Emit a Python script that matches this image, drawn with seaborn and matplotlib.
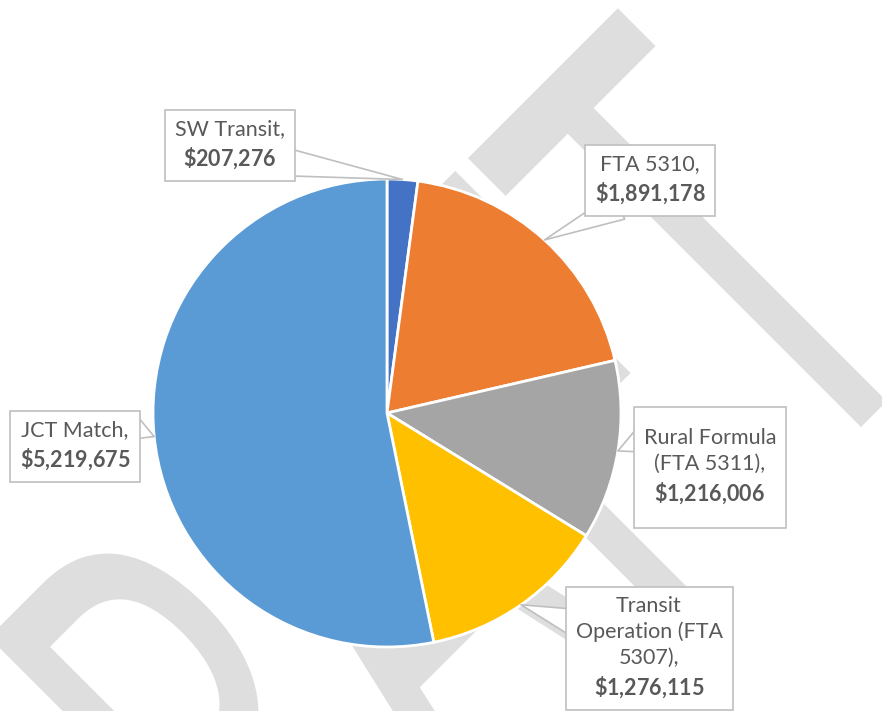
import numpy as np
import matplotlib
matplotlib.use("Agg")
import matplotlib.pyplot as plt
import seaborn as sns
from matplotlib.textpath import TextPath
from matplotlib.patches import PathPatch
from matplotlib.path import Path
from matplotlib.font_manager import FontProperties
from matplotlib.transforms import Affine2D

# Data
categories = ["SW Transit", "FTA 5310", "Rural Formula (FTA 5311)",
              "Transit Operation (FTA 5307)", "JCT Match"]
values = [207276, 1891178, 1216006, 1276115, 5219675]
label_names = ["SW Transit,", "FTA 5310,", "Rural Formula\n(FTA 5311),",
               "Transit\nOperation (FTA\n5307),", "JCT Match,"]
slice_colors = ["#4472C4", "#ED7D31", "#A5A5A5", "#FFC000", "#5B9BD5"]

# Layout (pixel coords, y down)
W, H = 882, 711
center = (387, 413)
radius = 234
box_centers = [(230, 145), (650, 180), (710, 467), (649, 648), (75, 446)]
box_pads = [(10, 10), (10, 10), (10, 22), (10, 10), (10, 10)]
arrow_relpos = [(1, 0.18), (0.22, 0), (0, 0.85), (0, 0.74), (1, 0.86)]


def rect_box(padx, pady):
    # plain rectangle with separate x / y padding (pixels)
    def style(x0, y0, width, height, mutation_size):
        x0, y0 = x0 - padx, y0 - pady
        x1, y1 = x0 + width + 2 * padx, y0 + height + 2 * pady
        return Path([(x0, y0), (x1, y0), (x1, y1), (x0, y1), (x0, y0)],
                    closed=True)
    return style


# Theme
sns.set_theme(style="white")
plt.rcParams["font.family"] = ["Lato", "DejaVu Sans"]
plt.rcParams["mathtext.fontset"] = "custom"
plt.rcParams["mathtext.rm"] = "Lato"
plt.rcParams["mathtext.bf"] = "Lato:bold"

palette = sns.color_palette(slice_colors)

fig = plt.figure(figsize=(W / 100, H / 100), dpi=100)
ax = fig.add_axes([0, 0, 1, 1])

# DRAFT watermark (condensed, rotated 45 degrees)
fp = FontProperties(family="Lato")
word = TextPath((0, 0), "DRAFT", size=1, prop=fp)
t_ext = TextPath((0, 0), "T", size=1, prop=fp).get_extents()
ky = 468 / t_ext.ymax
kx = 212 / t_ext.width
base = 1288
r2 = np.sqrt(2)
s0 = 431 - kx * word.get_extents().xmax
x0 = (s0 * r2 + base) / 2
y0 = (base - s0 * r2) / 2
tr = Affine2D.from_values(kx / r2, -kx / r2, -ky / r2, -ky / r2, x0, y0)
ax.add_patch(PathPatch(tr.transform_path(word), facecolor="#dedede",
                       edgecolor="none", zorder=0))

# Pie (y axis is inverted, so counterclock in data = clockwise on screen)
wedges, _ = ax.pie(values, colors=palette, startangle=-90, counterclock=True,
                   center=center, radius=radius,
                   wedgeprops=dict(edgecolor="white", linewidth=2))
for w in wedges:
    w.set_zorder(2)

ax.set_xlim(0, W)
ax.set_ylim(H, 0)
ax.set_aspect("auto")
ax.axis("off")

# Callout labels
for i, w in enumerate(wedges):
    mid = np.deg2rad((w.theta1 + w.theta2) / 2)
    tip = (center[0] + radius * np.cos(mid), center[1] + radius * np.sin(mid))
    val = f"{values[i]:,}".replace(",", "{,}")
    text = label_names[i] + "\n" + r"$\mathbf{\$" + val + "}$"
    ax.annotate(text, xy=tip, xytext=box_centers[i],
                ha="center", va="center", multialignment="center",
                fontsize=15.5, color="#595959", linespacing=1.35, zorder=5,
                bbox=dict(boxstyle=rect_box(*box_pads[i]), fc="white",
                          ec="#bfbfbf", lw=1.2),
                arrowprops=dict(arrowstyle="wedge,tail_width=1.3",
                                fc="white", ec="#bfbfbf", lw=1.2,
                                relpos=arrow_relpos[i], patchA=None,
                                shrinkA=0, shrinkB=0))

fig.savefig("out.png", dpi=100)
plt.close(fig)
